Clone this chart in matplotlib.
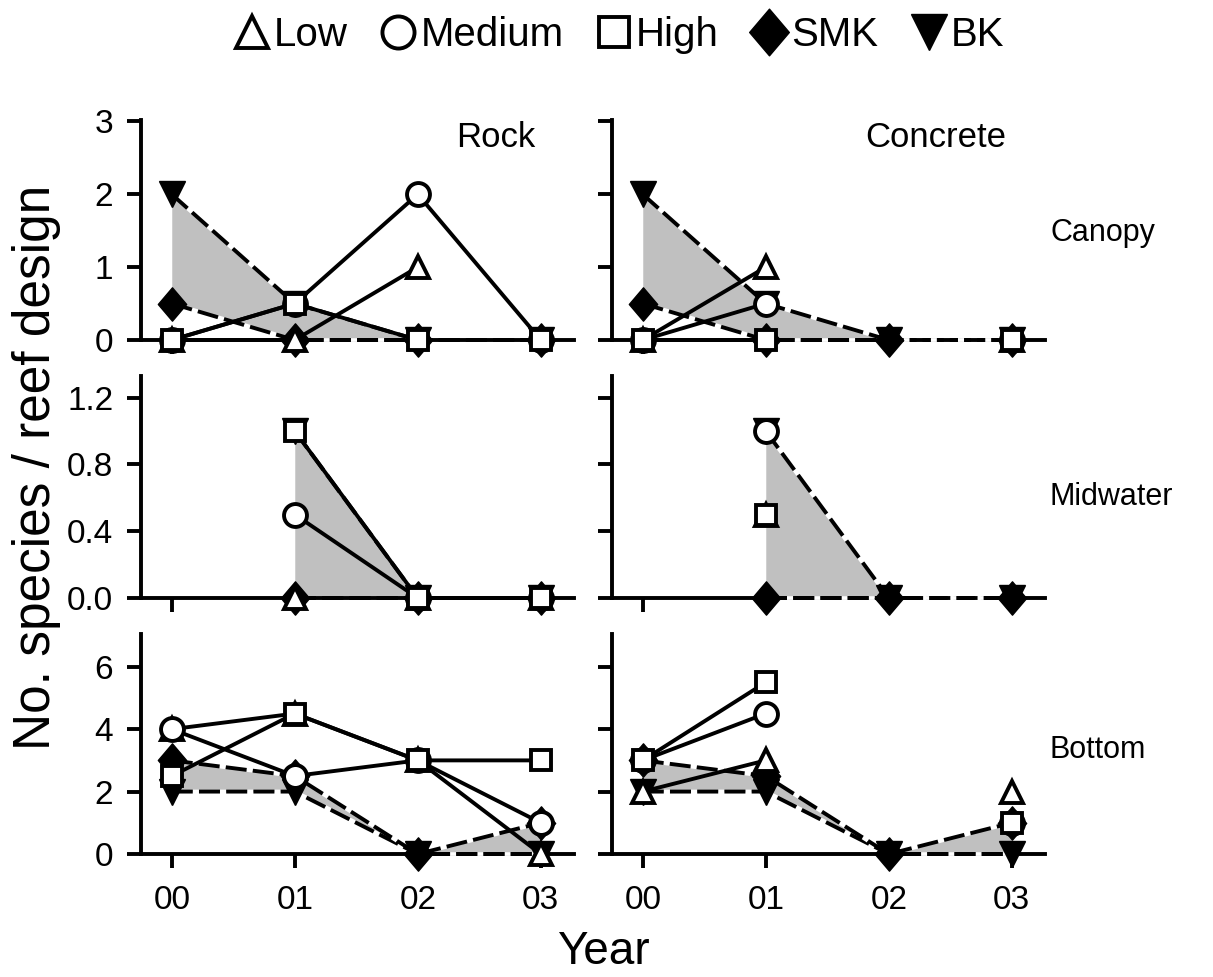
import numpy as np
import matplotlib
matplotlib.use("Agg")
import matplotlib.pyplot as plt
from matplotlib.lines import Line2D
from matplotlib.path import Path

plt.rcParams['font.family'] = ['Liberation Sans', 'DejaVu Sans']

nan = np.nan
years = ['00', '01', '02', '03']
series_names = ['Low', 'Medium', 'High', 'SMK', 'BK']
zones = ['Canopy', 'Midwater', 'Bottom']
materials = ['Rock', 'Concrete']

# species per reef design: Low, Medium, High (artificial), SMK, BK (natural)
rock_canopy_low = [0, 0, 1, nan]
rock_canopy_med = [0, 0.5, 2, 0]
rock_canopy_high = [0, 0.5, 0, 0]
rock_canopy_smk = [0.5, 0, 0, 0]
rock_canopy_bk = [2, 0.5, 0, 0]

concrete_canopy_low = [0, 1, nan, 0]
concrete_canopy_med = [0, 0.5, nan, 0]
concrete_canopy_high = [0, 0, nan, 0]
concrete_canopy_smk = [0.5, 0, 0, 0]
concrete_canopy_bk = [2, 0.5, 0, 0]

rock_mid_low = [nan, 0, 0, 0]
rock_mid_med = [nan, 0.5, 0, 0]
rock_mid_high = [nan, 1.0, 0, 0]
rock_mid_smk = [nan, 0, 0, 0]
rock_mid_bk = [nan, 1.0, 0, 0]

concrete_mid_low = [nan, 0.5, nan, nan]
concrete_mid_med = [nan, 1.0, nan, nan]
concrete_mid_high = [nan, 0.5, nan, nan]
concrete_mid_smk = [nan, 0, 0, 0]
concrete_mid_bk = [nan, 1.0, 0, 0]

rock_bottom_low = [4, 4.5, 3, 0]
rock_bottom_med = [4, 2.5, 3, 1]
rock_bottom_high = [2.5, 4.5, 3, 3]
rock_bottom_smk = [3, 2.5, 0, 1]
rock_bottom_bk = [2, 2, 0, 0]

concrete_bottom_low = [2, 3, nan, 2]
concrete_bottom_med = [3, 4.5, nan, 1]
concrete_bottom_high = [3, 5.5, nan, 1]
concrete_bottom_smk = [3, 2.5, 0, 1]
concrete_bottom_bk = [2, 2, 0, 0]

panels = {
    ('Canopy', 'Rock'): (rock_canopy_low, rock_canopy_med, rock_canopy_high, rock_canopy_smk, rock_canopy_bk),
    ('Canopy', 'Concrete'): (concrete_canopy_low, concrete_canopy_med, concrete_canopy_high, concrete_canopy_smk, concrete_canopy_bk),
    ('Midwater', 'Rock'): (rock_mid_low, rock_mid_med, rock_mid_high, rock_mid_smk, rock_mid_bk),
    ('Midwater', 'Concrete'): (concrete_mid_low, concrete_mid_med, concrete_mid_high, concrete_mid_smk, concrete_mid_bk),
    ('Bottom', 'Rock'): (rock_bottom_low, rock_bottom_med, rock_bottom_high, rock_bottom_smk, rock_bottom_bk),
    ('Bottom', 'Concrete'): (concrete_bottom_low, concrete_bottom_med, concrete_bottom_high, concrete_bottom_smk, concrete_bottom_bk),
}

y_limits = {'Canopy': (0, 3.02), 'Midwater': (0, 1.33), 'Bottom': (0, 7.05)}
y_ticks = {'Canopy': [0, 1, 2, 3], 'Midwater': [0, 0.4, 0.8, 1.2], 'Bottom': [0, 2, 4, 6]}
y_ticklabels = {'Canopy': ['0', '1', '2', '3'],
                'Midwater': ['0.0', '0.4', '0.8', '1.2'],
                'Bottom': ['0', '2', '4', '6']}

diamond = Path([(0, 1), (0.85, 0), (0, -1), (-0.85, 0), (0, 1)],
               [Path.MOVETO, Path.LINETO, Path.LINETO, Path.LINETO, Path.CLOSEPOLY])

LW = 2.8
DASH = (0, (5.4, 1.6))
styles = {
    'Low': dict(marker='^', ms=16.5, mfc='white', mec='black', mew=LW, ls='-', zorder=5),
    'Medium': dict(marker='o', ms=16.5, mfc='white', mec='black', mew=LW, ls='-', zorder=6),
    'High': dict(marker='s', ms=15, mfc='white', mec='black', mew=LW, ls='-', zorder=7),
    'SMK': dict(marker=diamond, ms=24, mfc='black', mec='black', mew=1, ls=DASH,
                gapcolor='white', zorder=4),
    'BK': dict(marker='v', ms=19, mfc='black', mec='black', mew=1, ls=DASH,
               gapcolor='white', zorder=3),
}

fig = plt.figure(figsize=(12.13, 9.77), dpi=100)

W, H = 1213, 977
col_left = {'Rock': 141, 'Concrete': 612}
row_top = {'Canopy': (120, 340), 'Midwater': (376, 598), 'Bottom': (634, 854)}
row_label_y = {'Canopy': 233, 'Midwater': 497, 'Bottom': 750}
ax_width = 433

x = np.arange(len(years))

for zone in zones:
    top, bottom = row_top[zone]
    for mat in materials:
        ax = fig.add_axes([col_left[mat] / W, 1 - bottom / H, ax_width / W, (bottom - top) / H])
        low, med, high, smk, bk = panels[(zone, mat)]

        # grey band between the two natural reefs
        ax.fill_between(x, np.array(smk, float), np.array(bk, float),
                        color='#c0c0c0', lw=0, zorder=1)
        for name, vals in zip(['BK', 'SMK', 'Low', 'Medium', 'High'], [bk, smk, low, med, high]):
            ax.plot(x, vals, color='black', lw=LW, clip_on=False, **styles[name])

        ax.set_xlim(-0.25, 3.27)
        ax.set_ylim(*y_limits[zone])
        ax.set_xticks(x)
        ax.set_yticks(y_ticks[zone])
        for side in ['top', 'right']:
            ax.spines[side].set_visible(False)
        for side in ['left', 'bottom']:
            ax.spines[side].set_linewidth(LW)
        ax.tick_params(direction='out', length=10, width=LW, labelsize=24, pad=10)
        ax.tick_params(axis='x', pad=12)
        if mat == 'Rock':
            ax.set_yticklabels(y_ticklabels[zone])
        else:
            ax.set_yticklabels([])
        if zone == 'Bottom':
            ax.set_xticklabels(years, fontsize=24)
        else:
            ax.set_xticklabels([])

        if zone == 'Canopy':
            ax.text(0.91, 0.92, mat, transform=ax.transAxes, ha='right', va='center', fontsize=25)

    fig.text(1050 / W, 1 - row_label_y[zone] / H, zone, ha='left', va='center', fontsize=22)

fig.text(37 / W, 1 - 467 / H, 'No. species / reef design', rotation=90,
         ha='center', va='center', fontsize=37)
fig.text(603 / W, 1 - 952 / H, 'Year', ha='center', va='center', fontsize=33)

handles = []
for name in series_names:
    st = styles[name]
    handles.append(Line2D([], [], ls='none', marker=st['marker'], ms=st['ms'] * 1.4,
                          mfc=st['mfc'], mec='black', mew=st['mew']))
fig.legend(handles, series_names, loc='center', bbox_to_anchor=(619 / W, 1 - 35 / H),
           ncol=5, frameon=False, fontsize=29,
           handletextpad=0.1, columnspacing=0.8, handlelength=0.9, borderaxespad=0)

fig.savefig('out.png', dpi=100)
